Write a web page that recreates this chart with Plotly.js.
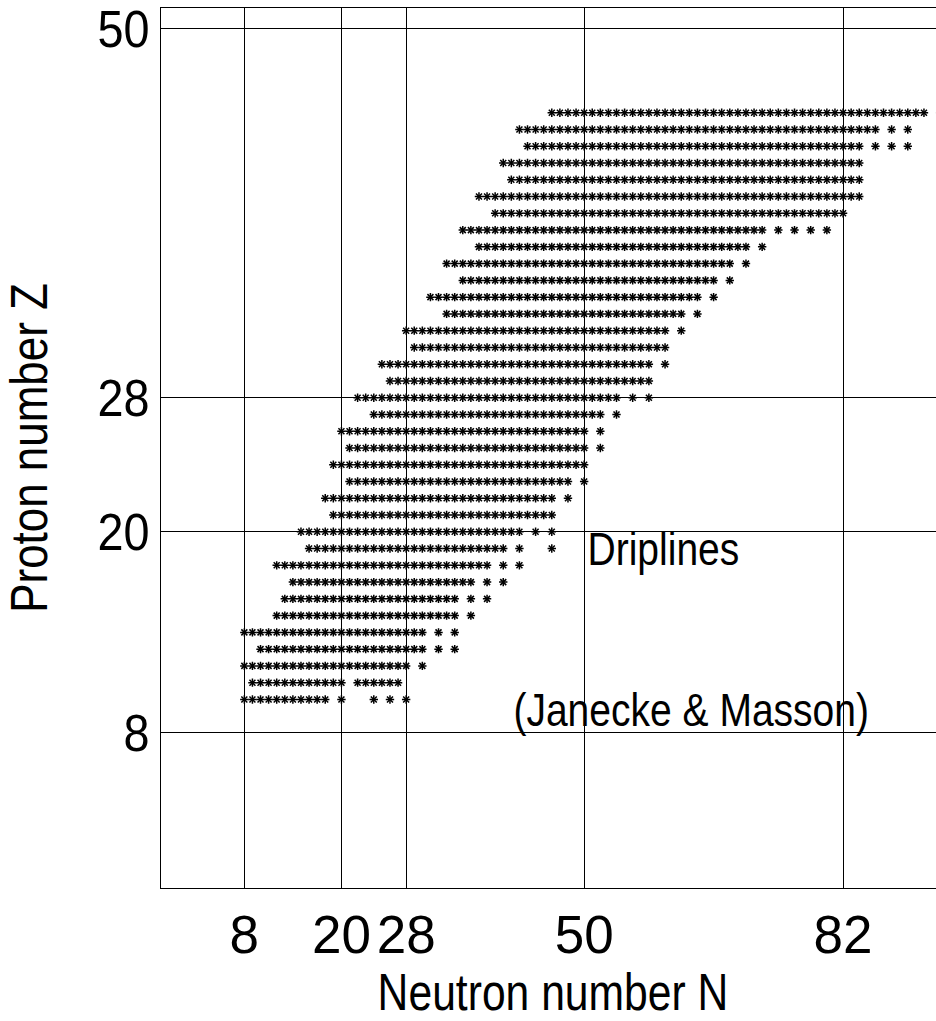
<!DOCTYPE html>
<html>
<head>
<meta charset="utf-8">
<script src="https://cdn.plot.ly/plotly-3.0.1.min.js"></script>
<style>html,body{margin:0;padding:0;overflow:hidden;background:#fff;}</style>
</head>
<body>
<div id="chart"></div>
<script>
// Proton number of each row of nuclei
const protonZ      = [10, 11, 12, 13, 14, 15, 16, 17, 18, 19, 20, 21, 22, 23, 24, 25, 26, 27,
                      28, 29, 30, 31, 32, 33, 34, 35, 36, 37, 38, 39, 40, 41, 42, 43, 44, 45];
// First and last neutron number of the continuous band in each row
const bandFirstN   = [ 8,  9,  8, 10,  8, 12, 13, 14, 12, 16, 15, 19, 18, 21, 19, 21, 20, 24,
                      22, 26, 25, 29, 28, 33, 31, 35, 33, 37, 35, 39, 37, 41, 40, 43, 42, 46];
const bandLastN    = [18, 20, 28, 30, 30, 34, 34, 36, 38, 40, 42, 46, 46, 48, 50, 50, 50, 52,
                      54, 58, 58, 60, 60, 62, 64, 66, 68, 70, 72, 82, 84, 84, 84, 84, 86, 92];
// Separate nuclei beyond the band in each row
const extraN = [
  [20, 24, 26, 28], [22, 23, 24, 25, 26, 27], [30], [32, 34], [32, 34], [36], [36, 38],
  [38, 40], [40, 42], [42, 46], [44, 46], [], [48], [50], [], [52], [52], [54],
  [56, 58], [], [60], [], [62], [64], [66], [68], [70], [72], [74, 76, 78, 80], [],
  [], [], [], [86, 88, 90], [88, 90], [94]
];
const xTickVals = [8, 20, 28, 50, 82];
const xTickText = ['8', '20', '28', '50', '82'];
const yTickVals = [8, 20, 28, 50];
const yTickText = ['8', '20', '28', '50'];

const N = [], Z = [];
protonZ.forEach((z, i) => {
  for (let n = bandFirstN[i]; n <= bandLastN[i]; n++) { N.push(n); Z.push(z); }
  extraN[i].forEach(n => { N.push(n); Z.push(z); });
});

const sans = 'Liberation Sans, Arial, Helvetica, sans-serif';

const mk = sym => ({
  type: 'scatter', mode: 'markers', x: N, y: Z, hoverinfo: 'skip', showlegend: false,
  marker: {symbol: sym, size: 6, color: '#000', line: {color: '#000', width: 1.5}}
});

const data = [mk('x-thin-open'), mk('cross-thin-open')];

const layout = {
  width: 946, height: 1021,
  margin: {l: 161, r: 1, t: 8, b: 133, pad: 0},
  paper_bgcolor: '#fff', plot_bgcolor: '#fff',
  showlegend: false,
  xaxis: {
    range: [-2.3, 94.6], tickmode: 'array', tickvals: xTickVals, ticktext: xTickText,
    showgrid: true, gridcolor: '#000', gridwidth: 1, zeroline: false,
    showline: true, mirror: true, linecolor: '#000', linewidth: 1, ticks: '',
    ticklabelstandoff: 0,
    tickfont: {family: sans, size: 53, color: '#000'},
    title: {text: 'Neutron number N', font: {family: sans, size: 52, color: '#000'}, standoff: 8}
  },
  yaxis: {
    range: [-1.25, 51.25], tickmode: 'array', tickvals: yTickVals, ticktext: yTickText,
    showgrid: true, gridcolor: '#000', gridwidth: 1, zeroline: false,
    showline: true, mirror: true, linecolor: '#000', linewidth: 1, ticks: '',
    ticklabelstandoff: 0,
    tickfont: {family: sans, size: 52, color: '#000'},
    title: {text: 'Proton number Z', font: {family: sans, size: 52, color: '#000'}, standoff: 28}
  },
  annotations: [
    {x: 59.85, y: 18.98, xref: 'x', yref: 'y', text: 'Driplines', showarrow: false,
     xanchor: 'center', yanchor: 'middle', font: {family: sans, size: 47, color: '#000'}},
    {x: 63.2, y: 9.4, xref: 'x', yref: 'y', text: '(Janecke &amp; Masson)', showarrow: false,
     xanchor: 'center', yanchor: 'middle', font: {family: sans, size: 47, color: '#000'}}
  ]
};

// the reference uses a condensed face: narrow the texts horizontally about their anchor
function squeeze(el, s) {
  const x = parseFloat(el.getAttribute('x')) || 0;
  const y = parseFloat(el.getAttribute('y')) || 0;
  const t = el.getAttribute('transform') || '';
  el.setAttribute('transform', t + ' translate(' + x + ',' + y + ') scale(' + s + ',1) translate(' + (-x) + ',' + (-y) + ')');
}

Plotly.newPlot('chart', data, layout, {displayModeBar: false, staticPlot: true}).then(gd => {
  gd.querySelectorAll('text.annotation-text').forEach(el => squeeze(el, 0.83));
  gd.querySelectorAll('text.xtitle').forEach(el => squeeze(el, 0.82));
  gd.querySelectorAll('text.ytitle').forEach(el => squeeze(el, 0.845));
  gd.querySelectorAll('g.ytick text').forEach(el => squeeze(el, 0.9));
});
</script>
</body>
</html>
